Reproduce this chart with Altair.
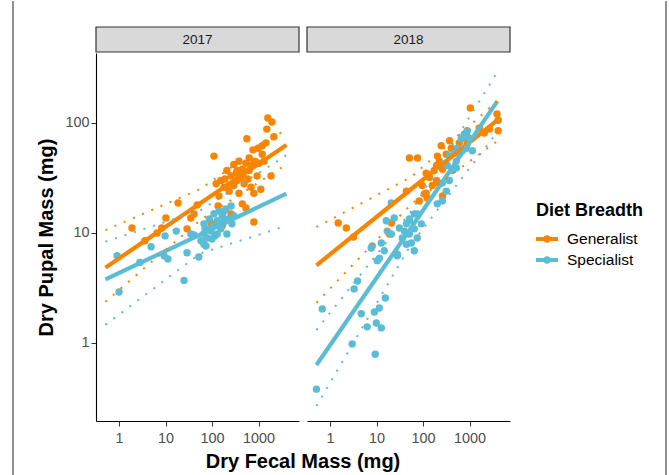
import altair as alt
import pandas as pd

FONT = "Liberation Sans"
ORANGE = "#F98400"
BLUE = "#5BBCD6"

years = ["2017", "2018"]
diets = ["Generalist", "Specialist"]

gen17_fecal = [1585, 1950, 1510, 2140, 562, 1445, 1200, 980, 760, 110, 630, 1200, 1020, 295, 537, 690,
               447, 209, 331, 257, 417, 155, 123, 182, 295, 490, 589, 1860, 690, 794, 1120, 447, 537,
               18.6, 48, 41, 35, 135, 10.2, 95, 257, 794, 1.9, 8.3, 6.6, 29, 3.6, 166, 234, 380, 141,
               347, 190, 468, 832, 933, 1318, 347, 234, 630, 380]
gen17_pupal = [111, 102, 88, 75, 72, 66, 62, 59, 57, 50, 48, 52, 43, 42, 43, 41, 38, 37, 35, 33, 32,
               30, 28, 26, 27, 28, 31, 33, 26, 23, 25, 18.4, 16.9, 18.7, 18, 14.9, 13.7, 17.6, 13.7,
               12.3, 14.9, 12.6, 11.1, 11.1, 10, 10.9, 8.5, 11.6, 24, 23, 21.7,
               37, 31, 35, 45, 33, 45, 30, 27, 37, 45]

spec17_fecal = [0.91, 1.0, 2.8, 4.9, 9.8, 9.3, 11.3, 17, 25, 29, 35, 52, 58, 74, 67, 87, 100, 67, 87,
                110, 141, 166, 200, 234, 209, 155, 129, 257, 295, 78, 41, 110, 67, 182, 269, 141,
                95, 129, 174, 71, 115, 190]
spec17_pupal = [6.2, 2.9, 5.4, 7.5, 9.4, 6.2, 5.8, 10.4, 3.7, 6.6, 9.8, 6.05, 8.5, 7.6, 9.9, 10.9, 8.8,
                12.1, 13.4, 14.9, 15.8, 14.3, 16.5, 13.4, 9.8, 10.9, 9.8, 17.6, 14.3, 9.0, 9.6, 11.6,
                7.9, 15.8, 12.1, 12.1, 10.4, 12.9, 12.3, 10.9, 9.4, 13.4]

gen18_fecal = [1040, 3900, 4150, 4150, 2690, 2090, 850, 776, 603, 891, 246, 407, 468, 316, 51, 76, 204,
               224, 195, 174, 263, 117, 138, 195, 224, 158, 117, 107, 123, 44, 263, 1.5, 2.24, 3.2, 21,
               19, 1620, 96, 83, 372]
gen18_pupal = [137, 121, 106, 85, 88, 81, 81, 73, 66, 64, 62, 59, 56, 52, 48, 48, 50, 45, 41, 37, 38,
               35, 32, 30, 28, 27, 23, 22.6, 20.8, 24, 21.7, 12.3, 11.1, 9.2, 12.3, 9.8, 90, 27, 19.5, 69]

spec18_fecal = [0.51, 0.68, 3.0, 9.4, 4.7, 6.3, 12.7, 9.9, 9.0, 11.5, 15.5, 3.3, 3.9, 7.7, 11.5, 10.4,
                12.7, 16.2, 20.8, 28, 36, 31, 44, 51, 40, 51, 56, 44, 75, 92, 20.8, 24, 17, 8.1, 14.7,
                65, 75, 65, 28, 520, 520, 603, 700, 853, 990, 773, 898, 1150, 427, 368, 317, 260, 203,
                65, 51, 667, 546, 471, 368, 333, 260]
spec18_pupal = [0.38, 2.04, 0.98, 0.79, 1.84, 1.40, 1.37, 1.52, 1.91, 2.08, 2.56, 3.1, 3.66, 7.3, 5.9,
                5.6, 8.1, 12.9, 9.8, 6.2, 9.0, 11.1, 12.1, 12.9, 10.4, 9.8, 8.1, 7.9, 14.9, 12.1, 18.7,
                13.7, 10.4, 7.6, 6.9, 10.9, 9.0, 6.9, 6.4, 45, 39, 52, 56, 59, 73, 79, 85, 56, 37, 30,
                24, 19.5, 18.4, 14.9, 13.4, 72, 59, 53, 50, 41, 28.5]

# ---- fitted lines and dotted bounds (start, middle, end) ----
line_fecal = [0.51, 56, 3980]
fit_gen17 = [4.84, 18.6, 63.1]
hi_gen17 = [10.6, 25.1, 88.5]
lo_gen17 = [2.37, 13.1, 42.0]
fit_spec17 = [3.79, 9.65, 22.8]
hi_spec17 = [8.34, 16.0, 50.9]
lo_spec17 = [1.46, 6.51, 11.6]
fit_gen18 = [5.08, 25.1, 106]
hi_gen18 = [11.3, 32.3, 158]
lo_gen18 = [2.32, 18.3, 68.6]
fit_spec18 = [0.63, 11.2, 158]
hi_spec18 = [1.31, 15.8, 291]
lo_spec18 = [0.267, 7.94, 82.8]

pt_rows = []
for yr, diet, fx, py in [("2017", "Generalist", gen17_fecal, gen17_pupal),
                         ("2017", "Specialist", spec17_fecal, spec17_pupal),
                         ("2018", "Generalist", gen18_fecal, gen18_pupal),
                         ("2018", "Specialist", spec18_fecal, spec18_pupal)]:
    for a, b in zip(fx, py):
        pt_rows.append({"year": yr, "diet": diet, "fecal": a, "pupal": b})
points = pd.DataFrame(pt_rows)

ln_rows = []
for yr, diet, kind, vals in [("2017", "Generalist", "fit", fit_gen17), ("2017", "Generalist", "hi", hi_gen17),
                             ("2017", "Generalist", "lo", lo_gen17), ("2017", "Specialist", "fit", fit_spec17),
                             ("2017", "Specialist", "hi", hi_spec17), ("2017", "Specialist", "lo", lo_spec17),
                             ("2018", "Generalist", "fit", fit_gen18), ("2018", "Generalist", "hi", hi_gen18),
                             ("2018", "Generalist", "lo", lo_gen18), ("2018", "Specialist", "fit", fit_spec18),
                             ("2018", "Specialist", "hi", hi_spec18), ("2018", "Specialist", "lo", lo_spec18)]:
    for a, b in zip(line_fecal, vals):
        ln_rows.append({"year": yr, "diet": diet, "kind": kind, "key": diet + kind, "fecal": a, "pupal": b})
lines = pd.DataFrame(ln_rows)

PW, PH = 203, 368
XS = alt.Scale(type="log", domain=[0.32, 7430], nice=False)
YS = alt.Scale(type="log", domain=[0.195, 433], nice=False)
CSCALE = alt.Scale(domain=diets, range=[ORANGE, BLUE])
COLOR = alt.Color(
    "diet:N",
    scale=CSCALE,
    legend=alt.Legend(
        title="Diet Breadth",
        orient="none",
        legendX=440,
        legendY=149,
        symbolType="M-1,-0.18H1V0.18H-1Z M-0.34,0A0.34,0.34 0 1 1 0.34,0A0.34,0.34 0 1 1 -0.34,0Z",
        symbolSize=484,
        symbolStrokeWidth=0,
        symbolOpacity=1,
    ),
)
STROKE = alt.Stroke("diet:N", scale=CSCALE, legend=None)


def panel(year, first):
    if first:
        xax = alt.Axis(values=[1, 10, 100, 1000], format="d", title="Dry Fecal Mass (mg)", titleX=206.5)
        yax = alt.Axis(values=[1, 10, 100], format="d", title="Dry Pupal Mass (mg)")
    else:
        xax = alt.Axis(values=[1, 10, 100, 1000], format="d", title=None)
        yax = None
    X = alt.X("fecal:Q", scale=XS, axis=xax)
    Y = alt.Y("pupal:Q", scale=YS, axis=yax)
    p = points[points.year == year]
    lf = lines[(lines.year == year) & (lines.kind == "fit")]
    lb = lines[(lines.year == year) & (lines.kind != "fit")]
    pts = alt.Chart(p).mark_circle(size=55, opacity=1).encode(x=X, y=Y, color=COLOR)
    fit = alt.Chart(lf).mark_line(strokeWidth=4.2, strokeCap="butt").encode(x=X, y=Y, stroke=STROKE, detail="key:N")
    band = alt.Chart(lb).mark_line(strokeWidth=2, strokeDash=[2, 8]).encode(x=X, y=Y, stroke=STROKE, detail="key:N")
    lab = pd.DataFrame({"label": [year]})
    strip = alt.Chart(lab).mark_rect(fill="#D9D9D9", stroke="#333333", strokeWidth=1.2).encode(
        x=alt.value(0), x2=alt.value(PW), y=alt.value(-26), y2=alt.value(-1))
    stext = alt.Chart(lab).mark_text(font=FONT, fontSize=13.5, color="#1A1A1A", baseline="middle").encode(
        text="label:N", x=alt.value(PW / 2), y=alt.value(-13))
    layers = [pts, fit, band, strip, stext]
    if first:
        frame = pd.DataFrame({"side": ["left", "right"]})
        left = alt.Chart(frame.iloc[:1]).mark_rule(color="#222222", strokeWidth=1).encode(
            x=alt.value(-83), y=alt.value(-52), y2=alt.value(422))
        right = alt.Chart(frame.iloc[1:]).mark_rule(color="#222222", strokeWidth=1).encode(
            x=alt.value(570), y=alt.value(-52), y2=alt.value(422))
        layers += [left, right]
    return alt.layer(*layers).properties(width=PW, height=PH)


chart = (
    alt.hconcat(panel("2017", True), panel("2018", False), spacing=8, bounds="flush")
    .properties(padding={"left": 12, "top": 0, "right": 0, "bottom": 0})
    .configure_view(stroke=None)
    .configure_axis(
        grid=False, domainColor="#000000", domainWidth=1.1, tickColor="#333333", tickSize=5,
        labelColor="#4D4D4D", labelFont=FONT, labelFontSize=14.4, titleFont=FONT, titleFontSize=20,
        titleFontWeight="bold", titleColor="#000000",
    )
    .configure_axisX(labelPadding=5, titlePadding=7)
    .configure_axisY(labelPadding=2, titlePadding=8)
    .configure_legend(
        titleFont=FONT, titleFontSize=18, titleFontWeight="bold", titleColor="#000000",
        labelFont=FONT, labelFontSize=15.5, labelColor="#000000", titlePadding=8, rowPadding=1,
        labelOffset=9, padding=0,
    )
)

chart.save("out.html", embed_options={"renderer": "svg", "actions": False})
